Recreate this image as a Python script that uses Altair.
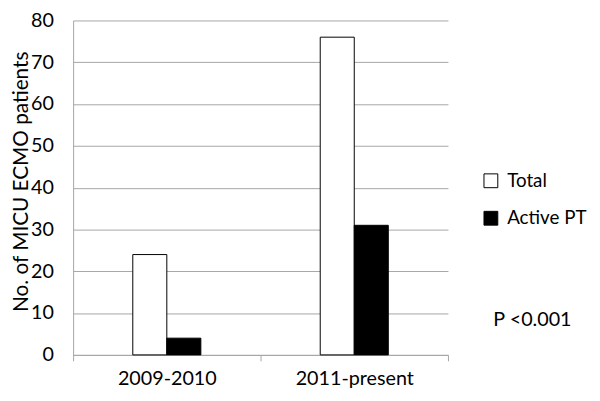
import altair as alt
import pandas as pd

periods = ["2009-2010", "2011-present"]
series = ["Total", "Active PT"]
total_vals = [24, 76]
active_vals = [4, 31]

rows = []
for i, p in enumerate(periods):
    rows.append({"period": p, "series": "Total", "value": total_vals[i]})
    rows.append({"period": p, "series": "Active PT", "value": active_vals[i]})
df = pd.DataFrame(rows)

FONT = "Lato"
GRAY = "#a6a6a6"
H = 339

bars = alt.Chart(df).mark_bar(stroke="black", strokeWidth=1).encode(
    x=alt.X("period:N", sort=periods, title=None,
            scale=alt.Scale(paddingInner=0, paddingOuter=0),
            axis=alt.Axis(labelAngle=0, tickBand="extent", domainColor=GRAY,
                          tickColor=GRAY, tickSize=6, labelFontSize=20,
                          labelFont=FONT, labelColor="black", labelPadding=8)),
    xOffset=alt.XOffset("series:N", sort=series,
                        scale=alt.Scale(range=[60.5, 129.5], paddingInner=0, paddingOuter=0)),
    y=alt.Y("value:Q", title="No. of MICU ECMO patients",
            scale=alt.Scale(domain=[0, 80]),
            axis=alt.Axis(values=list(range(0, 81, 10)), ticks=False,
                          domainColor=GRAY, gridColor=GRAY, labelFontSize=20,
                          labelFont=FONT, labelColor="black", labelPadding=20,
                          titleFont=FONT, titleFontSize=21, titleFontWeight="normal",
                          titleColor="black", titleX=-52, titleY=163,
                          titleAlign="center", titleBaseline="middle", titleAngle=-90)),
    fill=alt.Fill("series:N", sort=series,
                  scale=alt.Scale(domain=series, range=["white", "black"]),
                  legend=alt.Legend(title=None, orient="none", legendX=414, legendY=153,
                                    symbolType="square", symbolSize=196,
                                    symbolStrokeColor="black", symbolStrokeWidth=1,
                                    labelFontSize=19, labelFont=FONT, labelColor="black",
                                    labelOffset=7, rowPadding=18, padding=0)),
)

ptext = alt.Chart(pd.DataFrame({"t": ["P <0.001"]})).mark_text(
    align="left", baseline="middle", fontSize=20, font=FONT, color="black"
).encode(x=alt.value(426), y=alt.value(304), text="t:N")

chart = alt.layer(bars, ptext).properties(
    width=380, height=H,
    autosize=alt.AutoSizeParams(type="none"),
    padding={"left": 66, "top": 10, "right": 146, "bottom": 36},
).configure_view(stroke=None).configure_axis(grid=True).configure_axisX(grid=False)

chart.save("out.html", embed_options={"renderer": "svg", "actions": False})
